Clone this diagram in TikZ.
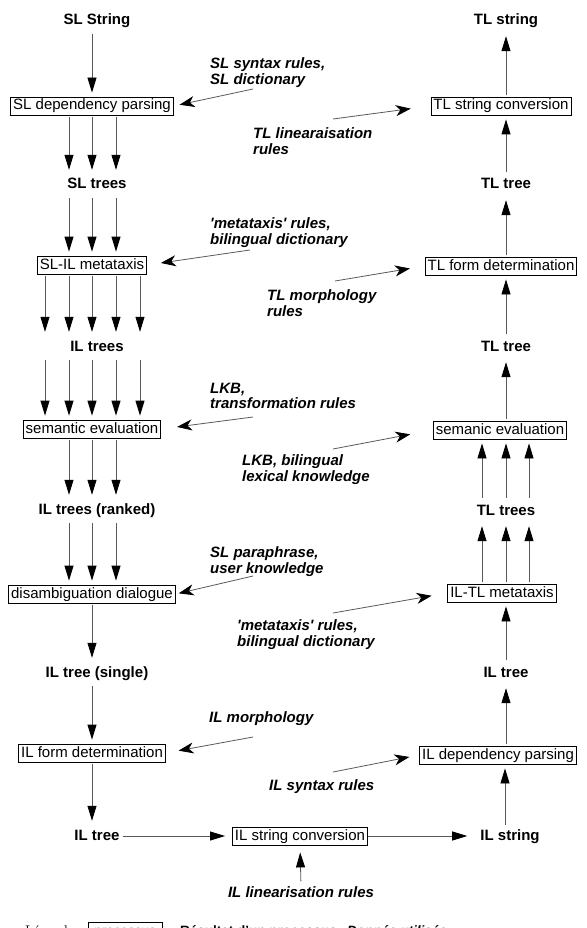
\documentclass[tikz,border=0pt]{standalone}
\usepackage{fontspec}
\setsansfont{Liberation Sans}
\usetikzlibrary{arrows.meta}

\tikzset{
	prozess/.style={draw=black, line width=0.8pt, font=\sffamily\fontsize{15}{15}\selectfont,
		inner xsep=2.5pt, inner ysep=2pt, text height=11pt, text depth=3pt},
	ergebnis/.style={font=\sffamily\bfseries\fontsize{15}{15}\selectfont,
		inner xsep=3pt, inner ysep=4pt, text height=11pt, text depth=3pt},
	daten/.style={font=\sffamily\bfseries\itshape\fontsize{15}{15.5}\selectfont,
		align=left, anchor=north west, inner sep=0pt},
	pfeil/.style={draw=black!65, line width=0.8pt,
		-{Triangle[length=15pt,width=9pt,color=black]}, shorten >=4pt, shorten <=2pt},
	seite/.style={draw=black!65, line width=0.8pt,
		-{Stealth[length=15pt,width=11pt,inset=4.5pt,color=black]}},
	legende/.style={anchor=base west, inner sep=0pt},
}

\begin{document}
\begin{tikzpicture}[x=1pt, y=-1pt]
	\useasboundingbox (0,0) rectangle (586,928);
	\clip (0,0) rectangle (586,928);

	% Linke Spalte
	\node[ergebnis] (slstr) at (97,21) {SL String};
	\node[prozess] (slp) at (92,106) {SL dependency parsing};
	\node[ergebnis] (sltrees) at (97,185) {SL trees};
	\node[prozess] (slil) at (92,265) {SL-IL metataxis};
	\node[ergebnis] (iltrees) at (97,347) {IL trees};
	\node[prozess] (seml) at (92,429) {semantic evaluation};
	\node[ergebnis] (ilranked) at (97,510) {IL trees (ranked)};
	\node[prozess] (dis) at (92,594) {disambiguation dialogue};
	\node[ergebnis] (ilsingle) at (97,673) {IL tree (single)};
	\node[prozess] (ilfd) at (92,753) {IL form determination};
	\node[ergebnis] (iltreel) at (97,836) {IL tree};

	\draw[pfeil] (slp.north |- slstr.south) -- (slp.north);
	\foreach \dx in {-23,0,24}
		\draw[pfeil] ([xshift=\dx pt]slp.south) -- ([xshift=\dx pt]slp.south |- sltrees.north);
	\foreach \dx in {-23,0,24}
		\draw[pfeil] ([xshift=\dx pt]slil.north |- sltrees.south) -- ([xshift=\dx pt]slil.north);
	\foreach \dx in {-47,-23,0,24,48}
		\draw[pfeil] ([xshift=\dx pt]slil.south) -- ([xshift=\dx pt]slil.south |- iltrees.north);
	\foreach \dx in {-47,-23,0,24,48}
		\draw[pfeil] ([xshift=\dx pt]seml.north |- iltrees.south) -- ([xshift=\dx pt]seml.north);
	\foreach \dx in {-23,0,24}
		\draw[pfeil] ([xshift=\dx pt]seml.south) -- ([xshift=\dx pt]seml.south |- ilranked.north);
	\foreach \dx in {-23,0,24}
		\draw[pfeil] ([xshift=\dx pt]dis.north |- ilranked.south) -- ([xshift=\dx pt]dis.north);
	\draw[pfeil] (dis.south) -- (dis.south |- ilsingle.north);
	\draw[pfeil] (ilfd.north |- ilsingle.south) -- (ilfd.north);
	\draw[pfeil] (ilfd.south) -- (ilfd.south |- iltreel.north);

	% Untere Zeile
	\node[prozess] (ilsc) at (300,836) {IL string conversion};
	\node[ergebnis] (ilstr) at (510,836) {IL string};
	\node[daten, anchor=center] (ilin) at (301,892) {IL linearisation rules};
	\draw[pfeil, shorten >=7pt, shorten <=0pt] (iltreel.east) -- (ilsc.west);
	\draw[pfeil, shorten >=10pt, shorten <=0pt] (ilsc.east) -- (ilstr.west);
	\draw[pfeil, shorten >=7pt, shorten <=5pt] (ilin.north) -- (ilsc.south);

	% Rechte Spalte
	\node[prozess] (ildp) at (498,755) {IL dependency parsing};
	\node[ergebnis] (iltreer) at (506,673) {IL tree};
	\node[prozess] (iltl) at (502,593) {IL-TL metataxis};
	\node[ergebnis] (tltrees) at (506,511) {TL trees};
	\node[prozess] (semr) at (500,430) {semanic evaluation};
	\node[ergebnis] (tltreeb) at (506,347) {TL tree};
	\node[prozess] (tlfd) at (501,266) {TL form determination};
	\node[ergebnis] (tltreea) at (506,185) {TL tree};
	\node[prozess] (tlsc) at (501,106) {TL string conversion};
	\node[ergebnis] (tlstr) at (506,21) {TL string};

	\draw[pfeil, shorten <=0pt] (ilstr.north -| 505,0) -- (ildp.south -| 505,0);
	\draw[pfeil] (ildp.north -| iltreer.south) -- (iltreer.south);
	\draw[pfeil] (iltreer.north) -- (iltl.south -| iltreer.north);
	\foreach \dx in {-24,0,23}
		\draw[pfeil] ([xshift=\dx pt]tltrees.south |- iltl.north) -- ([xshift=\dx pt]tltrees.south);
	\foreach \dx in {-24,0,23}
		\draw[pfeil] ([xshift=\dx pt]tltrees.north) -- ([xshift=\dx pt]tltrees.north |- semr.south);
	\draw[pfeil] (semr.north -| tltreeb.south) -- (tltreeb.south);
	\draw[pfeil] (tltreeb.north) -- (tlfd.south -| tltreeb.north);
	\draw[pfeil] (tlfd.north -| tltreea.south) -- (tltreea.south);
	\draw[pfeil] (tltreea.north) -- (tlsc.south -| tltreea.north);
	\draw[pfeil] (tlsc.north -| tlstr.south) -- (tlstr.south);

	% Verwendete Daten
	\node[daten] (d1) at (210,57.5) {SL syntax rules,\\SL dictionary};
	\node[daten] (d2) at (253,127.5) {TL linearaisation\\rules};
	\node[daten] (d3) at (210,217.5) {\textquotesingle metataxis\textquotesingle\ rules,\\bilingual dictionary};
	\node[daten] (d4) at (267,289.5) {TL morphology\\rules};
	\node[daten] (d5) at (210,382.5) {LKB,\\transformation rules};
	\node[daten] (d6) at (242,454.5) {LKB, bilingual\\lexical knowledge};
	\node[daten] (d7) at (210,546.5) {SL paraphrase,\\user knowledge};
	\node[daten] (d8) at (237,619.5) {\textquotesingle metataxis\textquotesingle\ rules,\\bilingual dictionary};
	\node[daten] (d9) at (209,711.5) {IL morphology};
	\node[daten] (d10) at (269,779.5) {IL syntax rules};

	\coordinate (t1) at (253,89);
	\coordinate (t2) at (333,119);
	\coordinate (t3) at (250,250);
	\coordinate (t4) at (335,281);
	\coordinate (t5) at (253,417);
	\coordinate (t6) at (333,449);
	\coordinate (t7) at (253,576);
	\coordinate (t8) at (333,613);
	\coordinate (t9) at (253,737);
	\coordinate (t10) at (333,772);
	\draw[seite, shorten >=6pt] (t1) -- (slp.east);
	\draw[seite, shorten >=20pt] (t2) -- (tlsc.west);
	\draw[seite, shorten >=14pt] (t3) -- (slil.east);
	\draw[seite, shorten >=15pt] (t4) -- (tlfd.west);
	\draw[seite, shorten >=16pt] (t5) -- (seml.east);
	\draw[seite, shorten >=23pt] (t6) -- (semr.west);
	\draw[seite, shorten >=3pt] (t7) -- (dis.east);
	\draw[seite, shorten >=16pt] (t8) -- (iltl.west);
	\draw[seite, shorten >=13pt] (t9) -- (ilfd.east);
	\draw[seite, shorten >=10pt] (t10) -- (ildp.west);

	% Legende
	\node[legende, font=\rmfamily\fontsize{14}{14}\selectfont] (leg) at (25,935) {Légende :};
	\node[prozess, anchor=base west, font=\sffamily\fontsize{13.5}{13.5}\selectfont, inner xsep=6pt] (legbox) at (88,935) {processus};
	\node[legende, font=\sffamily\bfseries\fontsize{13.5}{13.5}\selectfont] (legres) at (180,935) {Résultat d'un processus};
	\node[legende, font=\sffamily\bfseries\itshape\fontsize{13.5}{13.5}\selectfont] (legdat) at (347,935) {Donnée utilisée};
\end{tikzpicture}
\end{document}
